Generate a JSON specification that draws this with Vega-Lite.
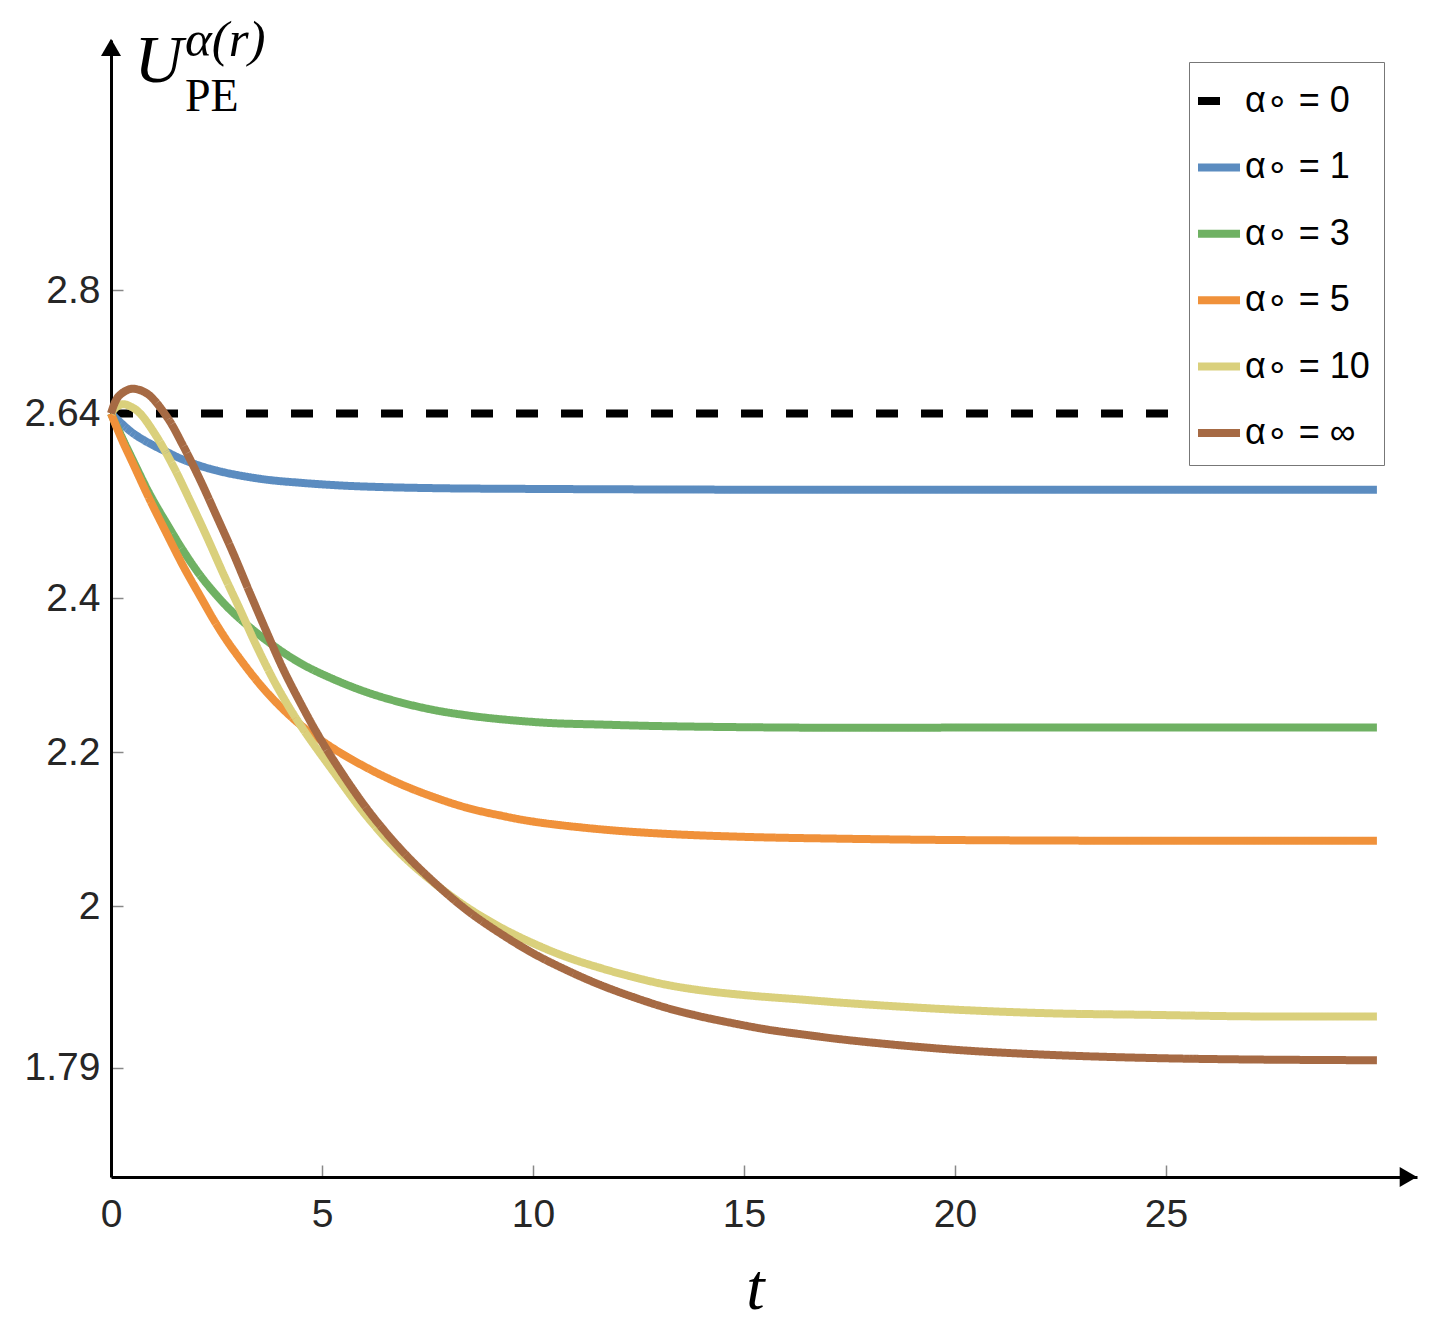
{
  "$schema": "https://vega.github.io/schema/vega-lite/v6.json",
  "width": 1306,
  "height": 1137,
  "autosize": {"type": "none"},
  "padding": {"left": 111, "top": 40, "right": 21, "bottom": 145},
  "background": "white",
  "title": {
    "text": "α(r)",
    "subtitle": "PE",
    "anchor": "start",
    "frame": "group",
    "offset": 0,
    "dx": 74,
    "dy": 94,
    "font": "Liberation Serif",
    "fontSize": 51,
    "fontStyle": "italic",
    "fontWeight": "normal",
    "color": "black",
    "subtitleFont": "Liberation Serif",
    "subtitleFontSize": 46,
    "subtitleFontStyle": "normal",
    "subtitleColor": "black",
    "subtitlePadding": 8
  },
  "data": {
    "values": [
      {"s": "α∘ = 0", "t": 0, "u": 2.64},
      {"s": "α∘ = 0", "t": 30, "u": 2.64},

      {"s": "α∘ = 1", "t": 0, "u": 2.64},
      {"s": "α∘ = 1", "t": 0.25, "u": 2.627},
      {"s": "α∘ = 1", "t": 0.53, "u": 2.614},
      {"s": "α∘ = 1", "t": 0.92, "u": 2.601},
      {"s": "α∘ = 1", "t": 1.32, "u": 2.59},
      {"s": "α∘ = 1", "t": 1.71, "u": 2.58},
      {"s": "α∘ = 1", "t": 2.11, "u": 2.572},
      {"s": "α∘ = 1", "t": 2.5, "u": 2.566},
      {"s": "α∘ = 1", "t": 2.9, "u": 2.561},
      {"s": "α∘ = 1", "t": 3.69, "u": 2.554},
      {"s": "α∘ = 1", "t": 4.48, "u": 2.55},
      {"s": "α∘ = 1", "t": 5.27, "u": 2.547},
      {"s": "α∘ = 1", "t": 6.06, "u": 2.545},
      {"s": "α∘ = 1", "t": 7.64, "u": 2.543},
      {"s": "α∘ = 1", "t": 10, "u": 2.542},
      {"s": "α∘ = 1", "t": 15, "u": 2.541},
      {"s": "α∘ = 1", "t": 20, "u": 2.541},
      {"s": "α∘ = 1", "t": 30, "u": 2.541},

      {"s": "α∘ = 3", "t": 0, "u": 2.64},
      {"s": "α∘ = 3", "t": 0.25, "u": 2.61},
      {"s": "α∘ = 3", "t": 0.53, "u": 2.578},
      {"s": "α∘ = 3", "t": 0.92, "u": 2.535},
      {"s": "α∘ = 3", "t": 1.32, "u": 2.497},
      {"s": "α∘ = 3", "t": 1.71, "u": 2.462},
      {"s": "α∘ = 3", "t": 2.11, "u": 2.43},
      {"s": "α∘ = 3", "t": 2.5, "u": 2.404},
      {"s": "α∘ = 3", "t": 2.9, "u": 2.381},
      {"s": "α∘ = 3", "t": 3.69, "u": 2.345},
      {"s": "α∘ = 3", "t": 4.48, "u": 2.316},
      {"s": "α∘ = 3", "t": 5.27, "u": 2.295},
      {"s": "α∘ = 3", "t": 6.06, "u": 2.278},
      {"s": "α∘ = 3", "t": 6.85, "u": 2.265},
      {"s": "α∘ = 3", "t": 7.64, "u": 2.255},
      {"s": "α∘ = 3", "t": 8.43, "u": 2.248},
      {"s": "α∘ = 3", "t": 9.22, "u": 2.243},
      {"s": "α∘ = 3", "t": 10.4, "u": 2.238},
      {"s": "α∘ = 3", "t": 11.6, "u": 2.236},
      {"s": "α∘ = 3", "t": 13, "u": 2.234},
      {"s": "α∘ = 3", "t": 16.3, "u": 2.232},
      {"s": "α∘ = 3", "t": 20, "u": 2.232},
      {"s": "α∘ = 3", "t": 30, "u": 2.232},

      {"s": "α∘ = 5", "t": 0, "u": 2.64},
      {"s": "α∘ = 5", "t": 0.25, "u": 2.607},
      {"s": "α∘ = 5", "t": 0.53, "u": 2.574},
      {"s": "α∘ = 5", "t": 0.92, "u": 2.528},
      {"s": "α∘ = 5", "t": 1.32, "u": 2.484},
      {"s": "α∘ = 5", "t": 1.71, "u": 2.442},
      {"s": "α∘ = 5", "t": 2.11, "u": 2.403},
      {"s": "α∘ = 5", "t": 2.5, "u": 2.366},
      {"s": "α∘ = 5", "t": 2.9, "u": 2.333},
      {"s": "α∘ = 5", "t": 3.69, "u": 2.278},
      {"s": "α∘ = 5", "t": 4.48, "u": 2.236},
      {"s": "α∘ = 5", "t": 5.27, "u": 2.205},
      {"s": "α∘ = 5", "t": 6.06, "u": 2.18},
      {"s": "α∘ = 5", "t": 6.85, "u": 2.159},
      {"s": "α∘ = 5", "t": 7.64, "u": 2.142},
      {"s": "α∘ = 5", "t": 8.43, "u": 2.128},
      {"s": "α∘ = 5", "t": 9.22, "u": 2.118},
      {"s": "α∘ = 5", "t": 10, "u": 2.11},
      {"s": "α∘ = 5", "t": 11.59, "u": 2.1},
      {"s": "α∘ = 5", "t": 13.17, "u": 2.094},
      {"s": "α∘ = 5", "t": 15.1, "u": 2.09},
      {"s": "α∘ = 5", "t": 17, "u": 2.088},
      {"s": "α∘ = 5", "t": 20, "u": 2.086},
      {"s": "α∘ = 5", "t": 25, "u": 2.085},
      {"s": "α∘ = 5", "t": 30, "u": 2.085},

      {"s": "α∘ = 10", "t": 0, "u": 2.64},
      {"s": "α∘ = 10", "t": 0.12, "u": 2.648},
      {"s": "α∘ = 10", "t": 0.29, "u": 2.652},
      {"s": "α∘ = 10", "t": 0.5, "u": 2.648},
      {"s": "α∘ = 10", "t": 0.69, "u": 2.64},
      {"s": "α∘ = 10", "t": 1.08, "u": 2.61},
      {"s": "α∘ = 10", "t": 1.48, "u": 2.571},
      {"s": "α∘ = 10", "t": 1.87, "u": 2.527},
      {"s": "α∘ = 10", "t": 2.27, "u": 2.48},
      {"s": "α∘ = 10", "t": 2.66, "u": 2.432},
      {"s": "α∘ = 10", "t": 3.06, "u": 2.385},
      {"s": "α∘ = 10", "t": 3.45, "u": 2.338},
      {"s": "α∘ = 10", "t": 3.93, "u": 2.286},
      {"s": "α∘ = 10", "t": 4.48, "u": 2.236},
      {"s": "α∘ = 10", "t": 5.27, "u": 2.175},
      {"s": "α∘ = 10", "t": 6.06, "u": 2.117},
      {"s": "α∘ = 10", "t": 6.85, "u": 2.069},
      {"s": "α∘ = 10", "t": 7.64, "u": 2.031},
      {"s": "α∘ = 10", "t": 8.43, "u": 1.999},
      {"s": "α∘ = 10", "t": 9.22, "u": 1.973},
      {"s": "α∘ = 10", "t": 10, "u": 1.952},
      {"s": "α∘ = 10", "t": 10.8, "u": 1.934},
      {"s": "α∘ = 10", "t": 11.59, "u": 1.92},
      {"s": "α∘ = 10", "t": 12.38, "u": 1.908},
      {"s": "α∘ = 10", "t": 13.17, "u": 1.898},
      {"s": "α∘ = 10", "t": 13.96, "u": 1.891},
      {"s": "α∘ = 10", "t": 15.14, "u": 1.884},
      {"s": "α∘ = 10", "t": 16.33, "u": 1.879},
      {"s": "α∘ = 10", "t": 17.5, "u": 1.874},
      {"s": "α∘ = 10", "t": 19.9, "u": 1.866},
      {"s": "α∘ = 10", "t": 22.25, "u": 1.861},
      {"s": "α∘ = 10", "t": 24.6, "u": 1.859},
      {"s": "α∘ = 10", "t": 27, "u": 1.857},
      {"s": "α∘ = 10", "t": 30, "u": 1.857},

      {"s": "α∘ = ∞", "t": 0, "u": 2.64},
      {"s": "α∘ = ∞", "t": 0.1, "u": 2.655},
      {"s": "α∘ = ∞", "t": 0.21, "u": 2.664},
      {"s": "α∘ = ∞", "t": 0.49, "u": 2.672},
      {"s": "α∘ = ∞", "t": 0.85, "u": 2.666},
      {"s": "α∘ = ∞", "t": 1.32, "u": 2.636},
      {"s": "α∘ = ∞", "t": 1.71, "u": 2.598},
      {"s": "α∘ = ∞", "t": 2.11, "u": 2.554},
      {"s": "α∘ = ∞", "t": 2.5, "u": 2.507},
      {"s": "α∘ = ∞", "t": 2.9, "u": 2.458},
      {"s": "α∘ = ∞", "t": 3.29, "u": 2.407},
      {"s": "α∘ = ∞", "t": 3.69, "u": 2.356},
      {"s": "α∘ = ∞", "t": 4.08, "u": 2.308},
      {"s": "α∘ = ∞", "t": 4.48, "u": 2.265},
      {"s": "α∘ = ∞", "t": 4.87, "u": 2.226},
      {"s": "α∘ = ∞", "t": 5.27, "u": 2.19},
      {"s": "α∘ = ∞", "t": 6.06, "u": 2.127},
      {"s": "α∘ = ∞", "t": 6.85, "u": 2.075},
      {"s": "α∘ = ∞", "t": 7.64, "u": 2.032},
      {"s": "α∘ = ∞", "t": 8.43, "u": 1.995},
      {"s": "α∘ = ∞", "t": 9.22, "u": 1.965},
      {"s": "α∘ = ∞", "t": 10, "u": 1.939},
      {"s": "α∘ = ∞", "t": 10.8, "u": 1.917},
      {"s": "α∘ = ∞", "t": 11.59, "u": 1.898},
      {"s": "α∘ = ∞", "t": 12.38, "u": 1.882},
      {"s": "α∘ = ∞", "t": 13.17, "u": 1.868},
      {"s": "α∘ = ∞", "t": 13.96, "u": 1.857},
      {"s": "α∘ = ∞", "t": 14.75, "u": 1.848},
      {"s": "α∘ = ∞", "t": 15.54, "u": 1.84},
      {"s": "α∘ = ∞", "t": 16.33, "u": 1.834},
      {"s": "α∘ = ∞", "t": 17.5, "u": 1.826},
      {"s": "α∘ = ∞", "t": 19.9, "u": 1.814},
      {"s": "α∘ = ∞", "t": 22.25, "u": 1.807},
      {"s": "α∘ = ∞", "t": 24.6, "u": 1.803},
      {"s": "α∘ = ∞", "t": 27, "u": 1.801},
      {"s": "α∘ = ∞", "t": 30, "u": 1.8}
    ]
  },
  "layer": [
    {
      "mark": {"type": "line", "interpolate": "catmull-rom", "strokeWidth": 8, "strokeCap": "butt", "strokeJoin": "round"},
      "encoding": {
        "x": {
          "field": "t",
          "type": "quantitative",
          "scale": {"domain": [0, 30.95], "nice": false, "zero": false},
          "axis": {
            "values": [0, 5, 10, 15, 20, 25],
            "format": "~g",
            "title": "t",
            "titleFont": "Liberation Serif",
            "titleFontStyle": "italic",
            "titleFontWeight": "normal",
            "titleFontSize": 66,
            "titleColor": "black",
            "titleX": 644,
            "titleY": 131,
            "titleAlign": "center",
            "titleBaseline": "alphabetic",
            "labelFont": "Liberation Sans",
            "labelFontSize": 39,
            "labelColor": "#262626",
            "labelPadding": 30,
            "labelFlush": false,
            "labelOverlap": false,
            "tickSize": -12,
            "tickColor": "#888888",
            "tickWidth": 1.5,
            "domainColor": "black",
            "domainWidth": 3,
            "grid": false
          }
        },
        "y": {
          "field": "u",
          "type": "quantitative",
          "scale": {"domain": [1.6484, 3.125], "nice": false, "zero": false},
          "axis": {
            "values": [1.79, 2, 2.2, 2.4, 2.64, 2.8],
            "format": "~g",
            "title": "U",
            "titleAngle": 0,
            "titleX": 23,
            "titleY": 41,
            "titleAlign": "left",
            "titleBaseline": "alphabetic",
            "titleFont": "Liberation Serif",
            "titleFontStyle": "italic",
            "titleFontWeight": "normal",
            "titleFontSize": 67,
            "titleColor": "black",
            "labelFont": "Liberation Sans",
            "labelFontSize": 39,
            "labelColor": "#262626",
            "labelPadding": 23,
            "labelFlush": false,
            "labelOverlap": false,
            "tickSize": -12,
            "tickColor": "#888888",
            "tickWidth": 1.5,
            "domainColor": "black",
            "domainWidth": 3,
            "grid": false
          }
        },
        "color": {
          "field": "s",
          "type": "nominal",
          "scale": {
            "domain": ["α∘ = 0", "α∘ = 1", "α∘ = 3", "α∘ = 5", "α∘ = 10", "α∘ = ∞"],
            "range": ["#000000", "#5B8CC0", "#6FB163", "#F0913A", "#DAD07C", "#A66A44"]
          },
          "legend": {
            "title": null,
            "orient": "none",
            "legendX": 1078,
            "legendY": 22,
            "symbolType": "stroke",
            "symbolSize": 1764,
            "symbolStrokeWidth": 8,
            "symbolOffset": -9,
            "labelFont": "Liberation Sans",
            "labelFontSize": 36,
            "labelColor": "black",
            "labelOffset": 1,
            "padding": 14,
            "rowPadding": 23.4,
            "fillColor": "white",
            "strokeColor": "#777777"
          }
        },
        "strokeDash": {
          "field": "s",
          "type": "nominal",
          "scale": {
            "domain": ["α∘ = 0", "α∘ = 1", "α∘ = 3", "α∘ = 5", "α∘ = 10", "α∘ = ∞"],
            "range": [[22, 23], [1, 0], [1, 0], [1, 0], [1, 0], [1, 0]]
          },
          "legend": {
            "title": null,
            "orient": "none",
            "legendX": 1078,
            "legendY": 22,
            "symbolType": "stroke",
            "symbolSize": 1764,
            "symbolStrokeWidth": 8,
            "symbolOffset": -9,
            "labelFont": "Liberation Sans",
            "labelFontSize": 36,
            "labelColor": "black",
            "labelOffset": 1,
            "padding": 14,
            "rowPadding": 23.4,
            "fillColor": "white",
            "strokeColor": "#777777"
          }
        }
      }
    },
    {
      "data": {"values": [{}]},
      "mark": {"type": "point", "shape": "triangle-up", "filled": true, "size": 400, "color": "black", "opacity": 1},
      "encoding": {"x": {"datum": 0}, "y": {"datum": 3.1154}}
    },
    {
      "data": {"values": [{}]},
      "mark": {"type": "point", "shape": "triangle-right", "filled": true, "size": 400, "color": "black", "opacity": 1},
      "encoding": {"x": {"datum": 30.745}, "y": {"datum": 1.6484}}
    }
  ],
  "config": {
    "view": {"stroke": null},
    "axis": {"grid": false}
  }
}
